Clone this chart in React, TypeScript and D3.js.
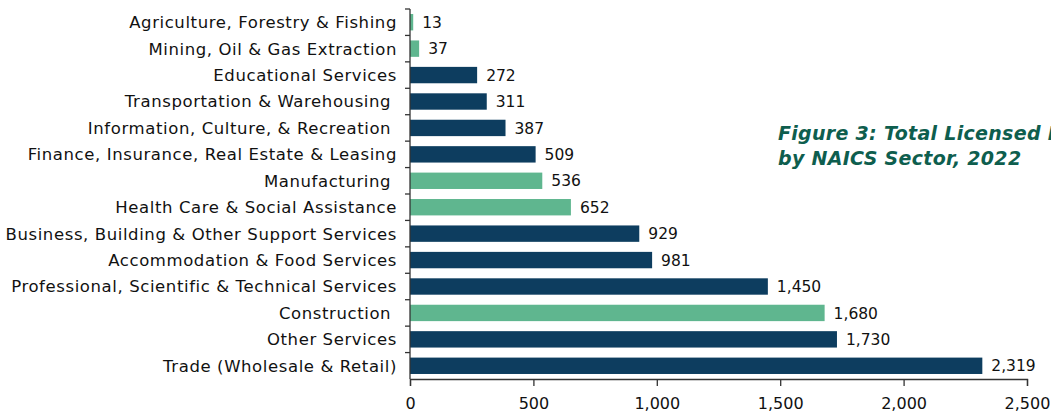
import React, { useEffect, useRef } from 'react';
import * as d3 from 'd3';

const sectors = [
  'Agriculture, Forestry & Fishing',
  'Mining, Oil & Gas Extraction',
  'Educational Services',
  'Transportation & Warehousing ',
  'Information, Culture, & Recreation ',
  'Finance, Insurance, Real Estate & Leasing',
  'Manufacturing ',
  'Health Care & Social Assistance',
  'Business, Building & Other Support Services',
  'Accommodation & Food Services',
  'Professional, Scientific & Technical Services',
  'Construction ',
  'Other Services',
  'Trade (Wholesale & Retail)',
];
const businesses = [13, 37, 272, 311, 387, 509, 536, 652, 929, 981, 1450, 1680, 1730, 2319];
const highlighted = [true, true, false, false, false, false, true, true, false, false, false, true, false, false];
const xTicks = [0, 500, 1000, 1500, 2000, 2500];
const titleLines = ['Figure 3: Total Licensed Businesses', 'by NAICS Sector, 2022'];

const NAVY = '#0d3d5f';
const GREEN = '#5fb68f';
const FONT = "'DejaVu Sans', sans-serif";

export default function App() {
  const ref = useRef<SVGSVGElement>(null);

  useEffect(() => {
    const H = 416;
    const margin = { top: 9, bottom: 37, left: 410 };

    const svg = d3.select(ref.current);
    svg.selectAll('*').remove();

    const x = d3.scaleLinear().domain([0, 2500]).range([margin.left, 1027]);
    const y = d3
      .scaleBand()
      .domain(sectors)
      .range([margin.top, H - margin.bottom])
      .paddingInner(0.38)
      .paddingOuter(0.19);

    const rows = sectors.map((s, i) => ({ s, v: businesses[i], g: highlighted[i] }));

    svg
      .append('g')
      .selectAll('rect')
      .data(rows)
      .join('rect')
      .attr('x', x(0))
      .attr('y', d => y(d.s) as number)
      .attr('width', d => x(d.v) - x(0))
      .attr('height', y.bandwidth())
      .attr('fill', d => (d.g ? GREEN : NAVY));

    svg
      .append('g')
      .selectAll('text')
      .data(rows)
      .join('text')
      .attr('x', d => x(d.v) + 9)
      .attr('y', d => (y(d.s) as number) + y.bandwidth() / 2)
      .attr('dy', '0.36em')
      .attr('font-family', FONT)
      .attr('font-size', 15.5)
      .attr('fill', '#111')
      .text(d => d3.format(',')(d.v));

    // y axis with ticks at category boundaries
    const yAxis = svg.append('g');
    yAxis
      .append('line')
      .attr('x1', x(0))
      .attr('x2', x(0))
      .attr('y1', margin.top)
      .attr('y2', H - margin.bottom)
      .attr('stroke', '#333')
      .attr('stroke-width', 1.3);
    const step = y.step();
    const bounds = d3.range(sectors.length).map(i => margin.top + i * step);
    yAxis
      .selectAll('line.tk')
      .data(bounds)
      .join('line')
      .attr('class', 'tk')
      .attr('x1', x(0) - 5)
      .attr('x2', x(0))
      .attr('y1', d => d)
      .attr('y2', d => d)
      .attr('stroke', '#333')
      .attr('stroke-width', 1.3);
    yAxis
      .selectAll('text')
      .data(sectors)
      .join('text')
      .attr('x', x(0) - 13)
      .attr('y', d => (y(d) as number) + y.bandwidth() / 2)
      .attr('dy', '0.36em')
      .attr('text-anchor', 'end')
      .attr('font-family', FONT)
      .attr('font-size', 16.5)
      .attr('letter-spacing', 0.6)
      .attr('fill', '#111')
      .style('white-space', 'pre')
      .text(d => d);

    const xAxis = svg
      .append('g')
      .attr('transform', `translate(0, ${H - margin.bottom})`)
      .call(
        d3
          .axisBottom(x)
          .tickValues(xTicks)
          .tickSize(7)
          .tickFormat(d => d3.format(',')(d as number))
      );
    xAxis.select('.domain').attr('stroke', '#333').attr('stroke-width', 1.3);
    xAxis.selectAll('.tick line').attr('stroke', '#333').attr('stroke-width', 1.3);
    xAxis
      .selectAll('.tick text')
      .attr('font-family', FONT)
      .attr('font-size', 16)
      .attr('fill', '#111')
      .attr('dy', '1.25em');

    svg
      .append('text')
      .attr('x', 778)
      .attr('y', 140)
      .attr('font-family', FONT)
      .attr('font-size', 19)
      .attr('font-weight', 700)
      .attr('font-style', 'italic')
      .attr('letter-spacing', 0.3)
      .attr('fill', '#0e5e4e')
      .selectAll('tspan')
      .data(titleLines)
      .join('tspan')
      .attr('x', 778)
      .attr('dy', (_, i) => (i === 0 ? 0 : 25))
      .text(d => d);
  }, []);

  return (
    <svg
      ref={ref}
      width={1051}
      height={416}
      style={{ position: 'absolute', left: 0, top: 0, background: '#fff' }}
    />
  );
}
